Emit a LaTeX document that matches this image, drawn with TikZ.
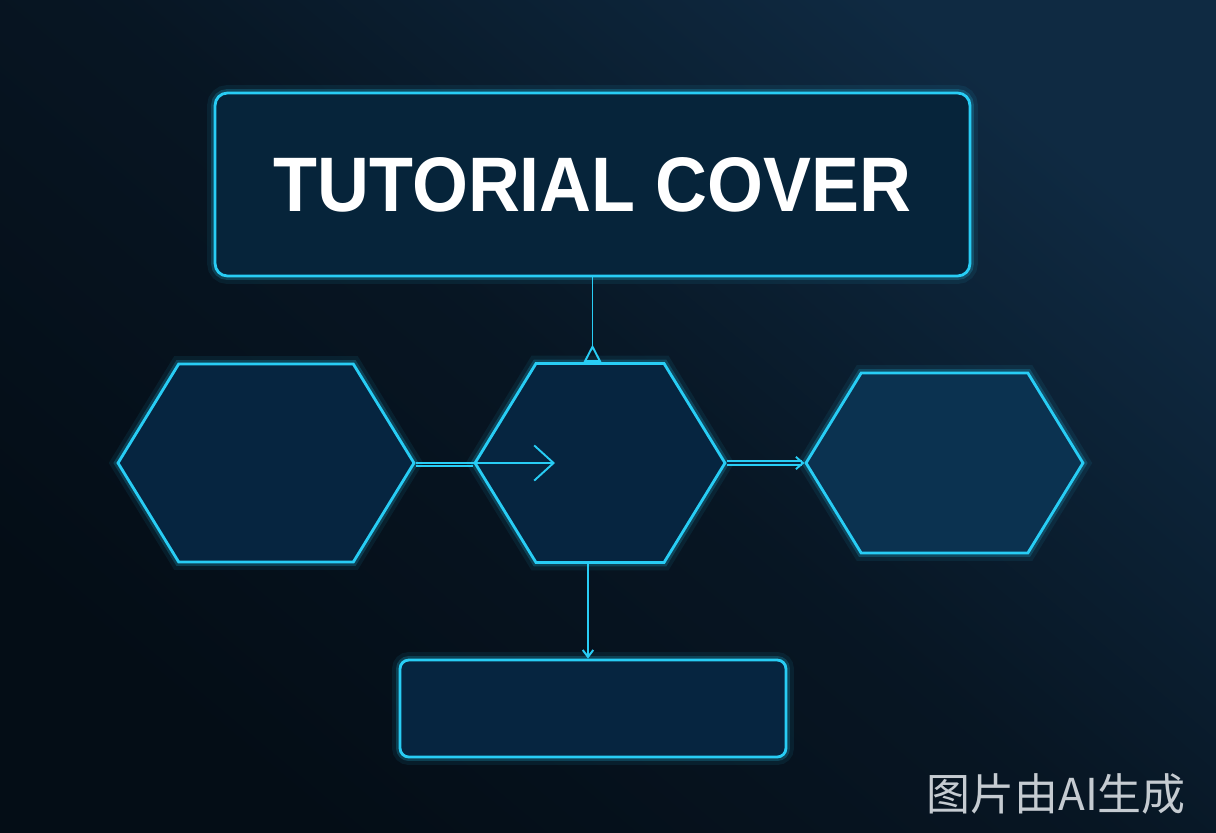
\documentclass[tikz,border=0pt]{standalone}
\usepackage{fontspec}
\newfontfamily\titlefont[FakeStretch=0.93]{Liberation Sans}
\newfontfamily\cjk{Noto Sans CJK SC}
\usetikzlibrary{shapes.symbols, arrows.meta, positioning, calc}

\definecolor{bgdark}{HTML}{040D16}
\definecolor{bglight}{HTML}{0F2A42}
\definecolor{neon}{HTML}{28CDF5}
\definecolor{boxfill}{HTML}{06243A}
\definecolor{hexfill}{HTML}{062540}
\definecolor{hexlight}{HTML}{0B3250}
\definecolor{marktext}{HTML}{C5CBD1}

\begin{document}
\begin{tikzpicture}[
    x=0.02cm, y=-0.02cm,
    glow/.style={
        preaction={draw=neon, line width=9pt, opacity=0.08},
        preaction={draw=neon, line width=4.5pt, opacity=0.2}
    },
    title_box/.style={
        rectangle,
        draw=neon,
        fill=boxfill,
        line width=1.6pt,
        rounded corners=7pt,
        glow,
        minimum width=15.1cm,
        minimum height=3.66cm,
        inner sep=0pt,
        text=white,
        font=\titlefont\bfseries\fontsize{44}{48}\selectfont
    },
    hex_node/.style={
        signal,
        signal to=west and east,
        signal pointer angle=117,
        draw=neon,
        fill=hexfill,
        line width=1.6pt,
        glow,
        inner sep=0pt
    },
    bottom_box/.style={
        rectangle,
        draw=neon,
        fill=hexfill,
        line width=1.6pt,
        rounded corners=5pt,
        glow,
        minimum width=7.72cm,
        minimum height=1.94cm
    },
    link/.style={draw=neon, line width=1.1pt}
]

    % Background
    \shade[top color=bglight, bottom color=bgdark, middle color=bgdark!70!bglight, shading angle=-40] (0,0) rectangle (1216,832);
    \useasboundingbox (0,0) rectangle (1216,832);

    % Nodes
    \node[title_box] (title) at (592.5,184.5) {TUTORIAL COVER};

    \node[hex_node, minimum width=5.92cm, minimum height=3.96cm] (lhex) at (266,463) {};
    \node[hex_node, minimum width=5.0cm, minimum height=3.98cm] (mhex) at (600,463) {};
    \node[hex_node, fill=hexlight, minimum width=5.54cm, minimum height=3.6cm] (rhex) at (944.5,463) {};

    \node[bottom_box] (bot) at (593,708.5) {};

    \node[font=\cjk\fontsize{25}{25}\selectfont, text=marktext, anchor=east] (mark) at (1192,794) {图片由AI生成};

    % Arrows
    \coordinate (tip) at (555,461);
    \coordinate (down) at (588,0);

    \draw[link, -{Triangle[open, reversed, length=10pt, width=10pt]}] (title.south) -- (title.south |- mhex.north);
    \draw[link, -{Straight Barb[length=11pt, width=20pt]}] (lhex.east) -- (lhex.east -| tip);
    \draw[link] ([yshift=-1.8pt]lhex.east) -- ([yshift=-1.8pt]mhex.west);
    \draw[link, double=hexfill, double distance=1.6pt, -{Straight Barb[length=4pt, width=7pt]}] (mhex.east) -- (rhex.west);
    \draw[link, -{Straight Barb[length=4pt, width=6pt]}] (mhex.south -| down) -- (bot.north -| down);

\end{tikzpicture}
\end{document}
